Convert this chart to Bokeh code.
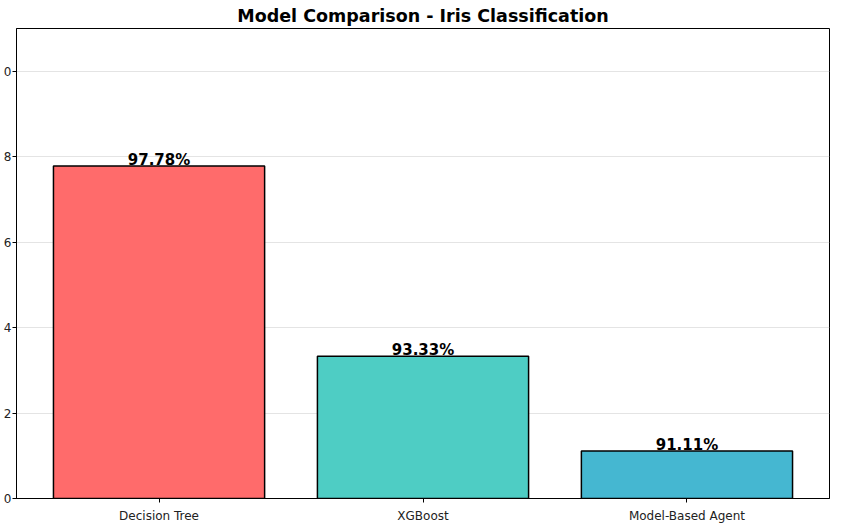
from bokeh.plotting import figure
from bokeh.models import ColumnDataSource, FactorRange, Range1d, FixedTicker
from bokeh.core.properties import value
from bokeh.embed import file_html
from bokeh.resources import INLINE

models = ["Decision Tree", "XGBoost", "Model-Based Agent"]
accuracy = [0.9778, 0.9333, 0.9111]
colors = ["#FF6B6B", "#4ECDC4", "#45B7D1"]
y_ticks = [0.90, 0.92, 0.94, 0.96, 0.98, 1.00]
# only the last digit of each y tick label is visible in the reference (cropped)
y_tick_labels = ["0", "2", "4", "6", "8", "0"]
labels = [f"{a * 100:.2f}%" for a in accuracy]

src = ColumnDataSource(dict(model=models, acc=accuracy, color=colors, label=labels))

FONT = "DejaVu Sans"

p = figure(
    x_range=FactorRange(*models, range_padding=0.08 / 3),
    y_range=Range1d(0.90, 1.01),
    frame_width=813, frame_height=470,
    output_backend="svg", toolbar_location=None,
    min_border_left=0, min_border_right=12, min_border_top=0, min_border_bottom=0,
    title="Model Comparison - Iris Classification",
)
p.title.align = "center"
p.title.text_font = FONT
p.title.text_font_size = "17.5px"
p.title.text_font_style = "bold"
p.title.text_color = "black"
p.title.standoff = 6
p.title.offset = 0

p.vbar(x="model", top="acc", bottom=0.90, width=0.8, source=src,
       fill_color="color", line_color="black", line_width=1.5)

p.text(x="model", y="acc", text="label", source=src,
       text_align="center", text_baseline="bottom", y_offset=3,
       text_font=value(FONT), text_font_size="15px", text_font_style="bold",
       text_color="black")

p.outline_line_color = "black"
p.outline_line_width = 1
p.xgrid.grid_line_color = None
p.ygrid.grid_line_color = "#d9d9d9"
p.ygrid.grid_line_alpha = 0.7
p.ygrid.ticker = FixedTicker(ticks=y_ticks)

p.yaxis.ticker = FixedTicker(ticks=y_ticks)
p.yaxis.major_label_overrides = {t: s for t, s in zip(y_ticks, y_tick_labels)}
for ax in (p.xaxis, p.yaxis):
    ax.axis_line_color = "black"
    ax.major_tick_line_color = "black"
    ax.major_tick_out = 4
    ax.major_tick_in = 0
    ax.minor_tick_line_color = None
    ax.major_label_text_font = FONT
    ax.major_label_text_font_size = "12px"
    ax.major_label_text_color = "#222222"
p.xaxis.major_label_standoff = 6
p.yaxis.major_label_standoff = 1

out = file_html(p, INLINE)
open("out.html", "w").write(out)
